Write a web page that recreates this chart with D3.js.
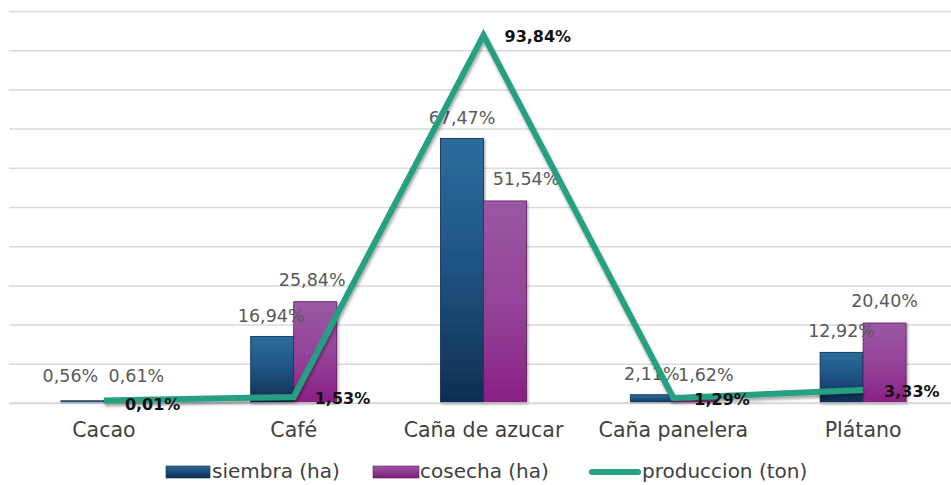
<!DOCTYPE html>
<html><head><meta charset="utf-8">
<script src="https://cdn.jsdelivr.net/npm/d3@7/dist/d3.min.js"></script>
<style>
html,body{margin:0;padding:0;background:#fff;}
svg{display:block;font-family:"DejaVu Sans",sans-serif;}
</style></head>
<body>
<svg id="chart" width="951" height="485"></svg>
<script>
const categories = ["Cacao","Café","Caña de azucar","Caña panelera","Plátano"];
const siembra = [0.56, 16.94, 67.47, 2.11, 12.92];
const cosecha = [0.61, 25.84, 51.54, 1.62, 20.40];
const produccion = [0.01, 1.53, 93.84, 1.29, 3.33];
const seriesNames = ["siembra (ha)","cosecha (ha)","produccion (ton)"];
const yTicks = [0,10,20,30,40,50,60,70,80,90,100];

const fmt = v => d3.format(".2f")(v).replace(".", ",") + "%";

const svg = d3.select("#chart");
const x = d3.scaleBand().domain(categories).range([9, 958]).padding(0);
const y = d3.scaleLinear().domain([0,100]).range([403, 11]);
const barW = 43;

const defs = svg.append("defs");
const g1 = defs.append("linearGradient").attr("id","gSiembra").attr("x1",0).attr("y1",0).attr("x2",0).attr("y2",1);
g1.append("stop").attr("offset","0%").attr("stop-color","#2c6c9c");
g1.append("stop").attr("offset","45%").attr("stop-color","#1f5686");
g1.append("stop").attr("offset","100%").attr("stop-color","#0f2e52");
const g2 = defs.append("linearGradient").attr("id","gCosecha").attr("x1",0).attr("y1",0).attr("x2",0).attr("y2",1);
g2.append("stop").attr("offset","0%").attr("stop-color","#9b58a3");
g2.append("stop").attr("offset","55%").attr("stop-color","#944299");
g2.append("stop").attr("offset","100%").attr("stop-color","#8a1f84");
const lg1 = defs.append("linearGradient").attr("id","lgSiembra").attr("x1",0).attr("y1",0).attr("x2",0).attr("y2",1);
lg1.append("stop").attr("offset","0%").attr("stop-color","#2a6a9a");
lg1.append("stop").attr("offset","100%").attr("stop-color","#0f2e52");
const lg2 = defs.append("linearGradient").attr("id","lgCosecha").attr("x1",0).attr("y1",0).attr("x2",0).attr("y2",1);
lg2.append("stop").attr("offset","0%").attr("stop-color","#9b58a3");
lg2.append("stop").attr("offset","100%").attr("stop-color","#7e1c7a");
const sh = defs.append("filter").attr("id","shadow").attr("x","-10%").attr("y","-10%").attr("width","120%").attr("height","130%");
sh.append("feDropShadow").attr("dx",1).attr("dy",3).attr("stdDeviation",1.5).attr("flood-color","#000").attr("flood-opacity",0.35);
const bsh = defs.append("filter").attr("id","bshadow").attr("x","-10%").attr("y","-10%").attr("width","130%").attr("height","120%");
bsh.append("feDropShadow").attr("dx",1.5).attr("dy",1).attr("stdDeviation",1).attr("flood-color","#000").attr("flood-opacity",0.3);

// gridlines
svg.append("g").attr("transform","translate(9,0)")
  .call(d3.axisLeft(y).tickValues(yTicks).tickSize(-(951-9)).tickFormat(""))
  .call(g => g.select(".domain").remove())
  .call(g => g.selectAll("line").attr("stroke","#d9d9d9").attr("stroke-width",1.5));

// bars
const bars = svg.append("g");
categories.forEach((c,i) => {
  const cx = x(c) + x.bandwidth()/2;
  bars.append("rect").attr("x", cx - barW).attr("y", y(siembra[i])).attr("width", barW)
    .attr("height", y(0) - y(siembra[i])).attr("fill","url(#gSiembra)")
    .attr("stroke","#0e2a48").attr("stroke-width",0.8).attr("filter","url(#bshadow)");
  bars.append("rect").attr("x", cx).attr("y", y(cosecha[i])).attr("width", barW)
    .attr("height", y(0) - y(cosecha[i])).attr("fill","url(#gCosecha)")
    .attr("stroke","#5e1a5e").attr("stroke-width",0.8).attr("filter","url(#bshadow)");
});

// category axis
svg.append("g").attr("transform",`translate(0,${y(0)})`)
  .call(d3.axisBottom(x).tickSize(0).tickPadding(19))
  .call(g => g.select(".domain").attr("d", `M9,0H951`).attr("stroke","#d9d9d9").attr("stroke-width",1.5))
  .call(g => g.selectAll("text").attr("font-size",20.5).attr("fill","#404040").attr("font-family","DejaVu Sans"));

// bar labels
const sOff = [-12, -1, 0, 0, 0];
const cOff = [11, -3, 21, 11, 0];
const lab = svg.append("g").attr("font-size",17.5).attr("fill","#595959").attr("text-anchor","middle");
categories.forEach((c,i) => {
  const cx = x(c) + x.bandwidth()/2;
  lab.append("text").attr("x", cx - barW/2 + sOff[i]).attr("y", Math.min(y(siembra[i]) - 15, 382)).text(fmt(siembra[i]));
  lab.append("text").attr("x", cx + barW/2 + cOff[i]).attr("y", Math.min(y(cosecha[i]) - 16, 382)).text(fmt(cosecha[i]));
});

// line
const line = d3.line().x((d,i) => x(categories[i]) + x.bandwidth()/2).y(d => Math.min(y(d), 400.5));
svg.append("path").datum(produccion).attr("d", line).attr("fill","none")
  .attr("stroke","#27a083").attr("stroke-width",6).attr("stroke-linejoin","miter")
  .attr("filter","url(#shadow)");

// line labels
const ll = svg.append("g").attr("font-size",16).attr("font-weight","bold").attr("fill","#111");
produccion.forEach((v,i) => {
  ll.append("text").attr("x", x(categories[i]) + x.bandwidth()/2 + 21).attr("y", y(v) + 7).text(fmt(v));
});

// legend
const leg = svg.append("g").attr("font-size",20).attr("fill","#404040");
leg.append("rect").attr("x",166).attr("y",466).attr("width",44).attr("height",12).attr("fill","url(#lgSiembra)").attr("stroke","#0e2a48").attr("stroke-width",0.6);
leg.append("text").attr("x",212).attr("y",478).text(seriesNames[0]);
leg.append("rect").attr("x",373).attr("y",466).attr("width",46).attr("height",12).attr("fill","url(#lgCosecha)").attr("stroke","#5e1a5e").attr("stroke-width",0.6);
leg.append("text").attr("x",420).attr("y",478).text(seriesNames[1]);
leg.append("line").attr("x1",592).attr("x2",638).attr("y1",472).attr("y2",472).attr("stroke","#27a083").attr("stroke-width",6).attr("stroke-linecap","round");
leg.append("text").attr("x",642).attr("y",478).text(seriesNames[2]);
</script>
</body></html>
